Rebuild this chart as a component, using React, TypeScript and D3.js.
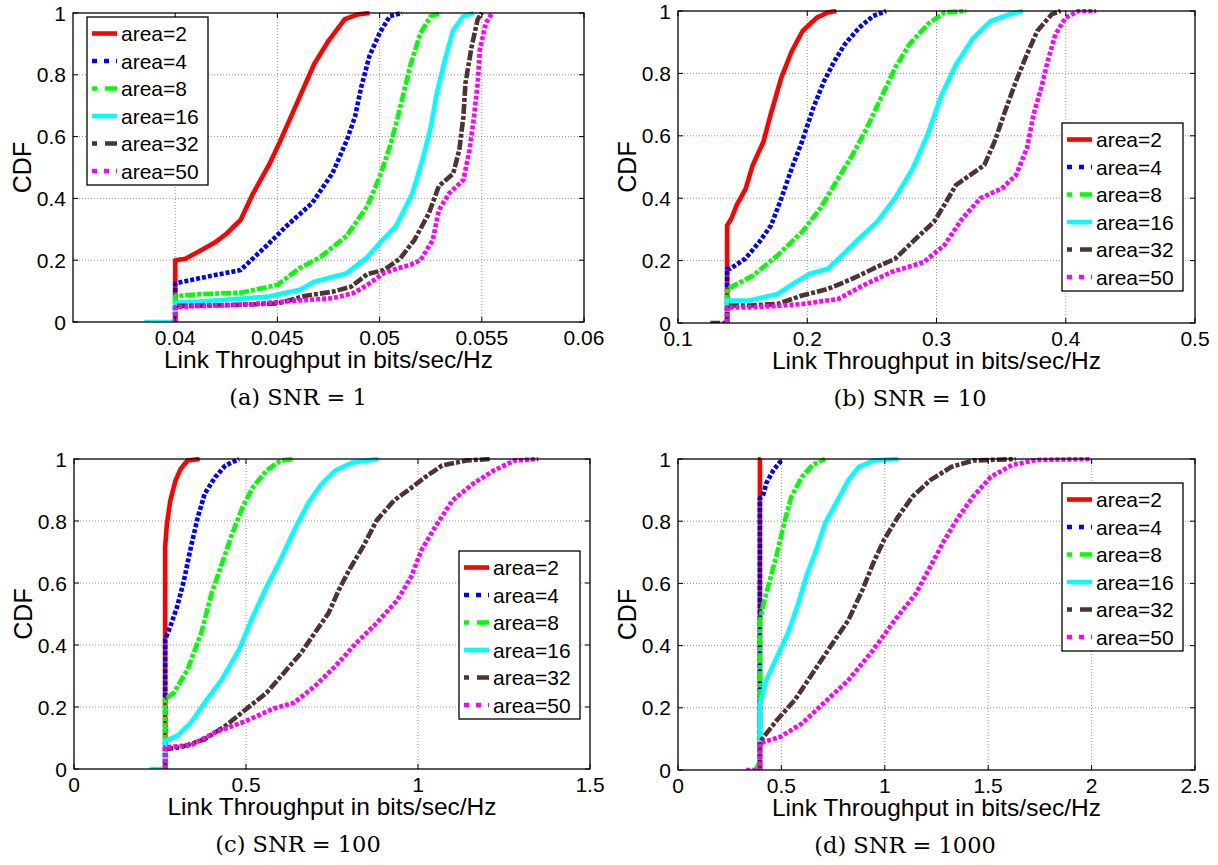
import React from "react";
import * as d3 from "d3";

type Pt = [number, number];

// legend / series styling
const legendLabels = ["area=2", "area=4", "area=8", "area=16", "area=32", "area=50"];
const seriesColors = ["#ff0000", "#0000ff", "#00ff00", "#00ffff", "#4d3333", "#ff00ff"];
const curveDash = ["", "4 2", "10 2 4 2", "", "10 2 4 2", "4 2"];
const legendDash = ["", "5 7", "5 8 12 8", "", "5 8 12 8", "5 7"];

const yTicks = [0, 0.2, 0.4, 0.6, 0.8, 1];
const yTickLabels = ["0", "0.2", "0.4", "0.6", "0.8", "1"];

// (a) SNR = 1
const ticksA = [0.04, 0.045, 0.05, 0.055, 0.06];
const tickLabelsA = ["0.04", "0.045", "0.05", "0.055", "0.06"];
const snr1Area2: Pt[] = [[0.04, 0], [0.04, 0.2], [0.0405, 0.205], [0.0412, 0.23], [0.042, 0.26], [0.0425, 0.285], [0.0428, 0.305], [0.0432, 0.33], [0.0438, 0.415], [0.0446, 0.51], [0.0451, 0.58], [0.0458, 0.685], [0.0463, 0.76], [0.0468, 0.835], [0.0475, 0.91], [0.0483, 0.98], [0.0489, 0.995], [0.0495, 1]];
const snr1Area4: Pt[] = [[0.04, 0], [0.04, 0.125], [0.0412, 0.142], [0.0432, 0.168], [0.0445, 0.249], [0.0454, 0.308], [0.0467, 0.385], [0.0477, 0.482], [0.0484, 0.589], [0.0488, 0.665], [0.0491, 0.76], [0.0495, 0.86], [0.05, 0.935], [0.0505, 0.99], [0.0511, 1]];
const snr1Area8: Pt[] = [[0.04, 0], [0.04, 0.084], [0.0412, 0.09], [0.0432, 0.095], [0.045, 0.12], [0.0461, 0.175], [0.0471, 0.21], [0.0484, 0.28], [0.0494, 0.375], [0.05, 0.47], [0.0505, 0.567], [0.0508, 0.64], [0.0511, 0.72], [0.0515, 0.83], [0.052, 0.935], [0.0525, 0.99], [0.053, 1]];
const snr1Area16: Pt[] = [[0.0385, 0], [0.04, 0], [0.04, 0.062], [0.0412, 0.066], [0.0445, 0.082], [0.0461, 0.104], [0.0468, 0.13], [0.0484, 0.158], [0.0494, 0.21], [0.05, 0.255], [0.0508, 0.31], [0.0516, 0.415], [0.0521, 0.525], [0.0525, 0.63], [0.0528, 0.74], [0.0532, 0.85], [0.0536, 0.945], [0.0541, 0.99], [0.0546, 1]];
const snr1Area32: Pt[] = [[0.04, 0], [0.04, 0.052], [0.0428, 0.055], [0.045, 0.06], [0.0464, 0.085], [0.0477, 0.098], [0.0486, 0.114], [0.0494, 0.155], [0.0502, 0.168], [0.051, 0.205], [0.0517, 0.265], [0.0524, 0.35], [0.0529, 0.44], [0.0536, 0.48], [0.0539, 0.557], [0.0541, 0.665], [0.0542, 0.773], [0.0545, 0.89], [0.0548, 0.98], [0.055, 1]];
const snr1Area50: Pt[] = [[0.04, 0], [0.04, 0.048], [0.0406, 0.05], [0.0438, 0.058], [0.0461, 0.07], [0.0477, 0.077], [0.0487, 0.093], [0.0494, 0.12], [0.0502, 0.158], [0.0509, 0.174], [0.0515, 0.185], [0.052, 0.2], [0.0526, 0.265], [0.0529, 0.362], [0.0534, 0.416], [0.0541, 0.46], [0.0544, 0.557], [0.0546, 0.654], [0.0548, 0.773], [0.0549, 0.88], [0.0552, 0.968], [0.0555, 1]];

// (b) SNR = 10
const ticksB = [0.1, 0.2, 0.3, 0.4, 0.5];
const tickLabelsB = ["0.1", "0.2", "0.3", "0.4", "0.5"];
const snr10Area2: Pt[] = [[0.138, 0], [0.138, 0.313], [0.1413, 0.335], [0.1454, 0.378], [0.1523, 0.43], [0.1578, 0.506], [0.166, 0.58], [0.1716, 0.667], [0.1798, 0.785], [0.188, 0.871], [0.1964, 0.936], [0.2074, 0.979], [0.2156, 0.995], [0.2225, 1]];
const snr10Area4: Pt[] = [[0.138, 0], [0.138, 0.174], [0.1405, 0.174], [0.152, 0.206], [0.163, 0.26], [0.172, 0.313], [0.18, 0.4], [0.188, 0.496], [0.196, 0.582], [0.2046, 0.689], [0.213, 0.775], [0.221, 0.839], [0.229, 0.893], [0.24, 0.946], [0.251, 0.984], [0.261, 1]];
const snr10Area8: Pt[] = [[0.138, 0], [0.138, 0.109], [0.141, 0.115], [0.158, 0.152], [0.177, 0.217], [0.196, 0.292], [0.21, 0.367], [0.224, 0.464], [0.235, 0.539], [0.246, 0.624], [0.257, 0.721], [0.268, 0.818], [0.279, 0.893], [0.293, 0.957], [0.306, 0.995], [0.323, 1]];
const snr10Area16: Pt[] = [[0.138, 0], [0.138, 0.072], [0.155, 0.072], [0.177, 0.093], [0.191, 0.131], [0.202, 0.158], [0.216, 0.174], [0.227, 0.217], [0.24, 0.27], [0.254, 0.324], [0.268, 0.4], [0.2817, 0.496], [0.293, 0.603], [0.304, 0.732], [0.315, 0.828], [0.3285, 0.914], [0.342, 0.968], [0.356, 0.989], [0.367, 1]];
const snr10Area32: Pt[] = [[0.125, 0], [0.138, 0], [0.138, 0.056], [0.155, 0.056], [0.177, 0.061], [0.196, 0.088], [0.216, 0.109], [0.235, 0.142], [0.251, 0.174], [0.268, 0.206], [0.284, 0.27], [0.298, 0.324], [0.306, 0.378], [0.315, 0.442], [0.326, 0.474], [0.337, 0.506], [0.345, 0.582], [0.353, 0.678], [0.3615, 0.775], [0.37, 0.861], [0.378, 0.936], [0.389, 0.989], [0.396, 1]];
const snr10Area50: Pt[] = [[0.138, 0], [0.138, 0.05], [0.155, 0.05], [0.174, 0.054], [0.196, 0.061], [0.224, 0.077], [0.243, 0.12], [0.265, 0.163], [0.29, 0.195], [0.306, 0.249], [0.32, 0.335], [0.334, 0.4], [0.3505, 0.431], [0.3615, 0.474], [0.37, 0.56], [0.375, 0.667], [0.381, 0.753], [0.386, 0.839], [0.392, 0.925], [0.4, 0.979], [0.41, 1], [0.4235, 1]];

// (c) SNR = 100
const ticksC = [0, 0.5, 1, 1.5];
const tickLabelsC = ["0", "0.5", "1", "1.5"];
const snr100Area2: Pt[] = [[0.265, 0], [0.265, 0.717], [0.27, 0.79], [0.28, 0.866], [0.295, 0.93], [0.31, 0.968], [0.33, 0.995], [0.365, 1]];
const snr100Area4: Pt[] = [[0.265, 0], [0.265, 0.417], [0.28, 0.46], [0.3, 0.524], [0.32, 0.61], [0.34, 0.717], [0.36, 0.813], [0.38, 0.888], [0.41, 0.941], [0.44, 0.979], [0.48, 1]];
const snr100Area8: Pt[] = [[0.265, 0], [0.265, 0.225], [0.29, 0.246], [0.33, 0.321], [0.37, 0.439], [0.4, 0.567], [0.43, 0.663], [0.46, 0.759], [0.49, 0.845], [0.52, 0.909], [0.56, 0.963], [0.6, 0.995], [0.64, 1]];
const snr100Area16: Pt[] = [[0.22, 0], [0.265, 0], [0.265, 0.091], [0.3, 0.107], [0.34, 0.15], [0.38, 0.214], [0.43, 0.289], [0.48, 0.385], [0.52, 0.492], [0.56, 0.588], [0.6, 0.674], [0.64, 0.77], [0.68, 0.856], [0.72, 0.92], [0.76, 0.963], [0.81, 0.989], [0.885, 1]];
const snr100Area32: Pt[] = [[0.265, 0], [0.265, 0.064], [0.31, 0.07], [0.38, 0.096], [0.44, 0.139], [0.5, 0.193], [0.56, 0.246], [0.61, 0.31], [0.66, 0.374], [0.7, 0.439], [0.74, 0.503], [0.77, 0.578], [0.8, 0.642], [0.84, 0.717], [0.88, 0.802], [0.93, 0.866], [0.97, 0.898], [1.02, 0.941], [1.07, 0.979], [1.14, 0.995], [1.21, 1]];
const snr100Area50: Pt[] = [[0.265, 0], [0.265, 0.07], [0.34, 0.077], [0.41, 0.118], [0.5, 0.155], [0.58, 0.195], [0.64, 0.214], [0.7, 0.267], [0.76, 0.332], [0.82, 0.406], [0.88, 0.471], [0.94, 0.545], [0.98, 0.62], [1.01, 0.706], [1.05, 0.781], [1.1, 0.866], [1.16, 0.92], [1.22, 0.963], [1.28, 0.995], [1.35, 1]];

// (d) SNR = 1000
const ticksD = [0, 0.5, 1, 1.5, 2, 2.5];
const tickLabelsD = ["0", "0.5", "1", "1.5", "2", "2.5"];
const snr1000Area2: Pt[] = [[0.396, 0], [0.396, 1], [0.4, 1]];
const snr1000Area4: Pt[] = [[0.396, 0], [0.396, 0.874], [0.41, 0.88], [0.427, 0.922], [0.462, 0.965], [0.505, 1]];
const snr1000Area8: Pt[] = [[0.376, 0], [0.396, 0.03], [0.396, 0.48], [0.41, 0.525], [0.4445, 0.611], [0.479, 0.697], [0.513, 0.793], [0.548, 0.879], [0.6, 0.943], [0.651, 0.981], [0.711, 1]];
const snr1000Area16: Pt[] = [[0.396, 0], [0.396, 0.214], [0.427, 0.289], [0.479, 0.364], [0.531, 0.439], [0.582, 0.536], [0.625, 0.632], [0.668, 0.707], [0.711, 0.793], [0.772, 0.868], [0.824, 0.932], [0.875, 0.975], [0.944, 0.995], [1.065, 1]];
const snr1000Area32: Pt[] = [[0.396, 0], [0.396, 0.091], [0.479, 0.161], [0.565, 0.225], [0.651, 0.311], [0.737, 0.397], [0.824, 0.482], [0.892, 0.579], [0.944, 0.665], [0.996, 0.74], [1.065, 0.815], [1.134, 0.879], [1.22, 0.932], [1.323, 0.975], [1.427, 0.995], [1.633, 1]];
const snr1000Area50: Pt[] = [[0.33, 0], [0.396, 0], [0.396, 0.086], [0.496, 0.107], [0.6, 0.15], [0.703, 0.214], [0.824, 0.289], [0.944, 0.386], [1.048, 0.482], [1.151, 0.568], [1.22, 0.654], [1.289, 0.74], [1.358, 0.815], [1.427, 0.879], [1.513, 0.943], [1.616, 0.981], [1.737, 0.997], [1.995, 1]];

const panels = [
  { id: "a", x0: 73, x1: 584, y0: 13, y1: 322, domain: [0.035, 0.06], ticks: ticksA, tickLabels: tickLabelsA,
    series: [snr1Area2, snr1Area4, snr1Area8, snr1Area16, snr1Area32, snr1Area50], caption: "(a) SNR = 1", capX: 298, lx: 87, ly: 17 },
  { id: "b", x0: 678, x1: 1195, y0: 11, y1: 323, domain: [0.1, 0.5], ticks: ticksB, tickLabels: tickLabelsB,
    series: [snr10Area2, snr10Area4, snr10Area8, snr10Area16, snr10Area32, snr10Area50], caption: "(b) SNR = 10", capX: 910, lx: 1062, ly: 123 },
  { id: "c", x0: 74, x1: 590, y0: 459, y1: 769, domain: [0, 1.5], ticks: ticksC, tickLabels: tickLabelsC,
    series: [snr100Area2, snr100Area4, snr100Area8, snr100Area16, snr100Area32, snr100Area50], caption: "(c) SNR = 100", capX: 298, lx: 459, ly: 551 },
  { id: "d", x0: 678, x1: 1195, y0: 459, y1: 770, domain: [0, 2.5], ticks: ticksD, tickLabels: tickLabelsD,
    series: [snr1000Area2, snr1000Area4, snr1000Area8, snr1000Area16, snr1000Area32, snr1000Area50], caption: "(d) SNR = 1000", capX: 905, lx: 1062, ly: 483 },
];

const sans = "'Liberation Sans', Arial, Helvetica, sans-serif";
const serif = "'DejaVu Serif', 'Liberation Serif', serif";

function Panel({ p }: { p: (typeof panels)[number] }) {
  const xs = d3.scaleLinear().domain(p.domain).range([p.x0, p.x1]);
  const ys = d3.scaleLinear().domain([0, 1]).range([p.y1, p.y0]);
  const line = d3.line<Pt>().x(d => xs(d[0])).y(d => ys(d[1]));
  const clipId = "clip-" + p.id;
  const midX = (p.x0 + p.x1) / 2;
  const midY = (p.y0 + p.y1) / 2;
  const tickLen = 5;

  return (
    <g>
      <defs>
        <clipPath id={clipId}>
          <rect x={p.x0} y={p.y0 - 2} width={p.x1 - p.x0} height={p.y1 - p.y0 + 2} />
        </clipPath>
      </defs>
      <rect x={p.x0} y={p.y0} width={p.x1 - p.x0} height={p.y1 - p.y0} fill="#fff" />

      {/* dotted grid */}
      {p.ticks.filter(t => xs(t) > p.x0 + 1 && xs(t) < p.x1 - 1).map(t => (
        <line key={"gx" + t} x1={xs(t)} x2={xs(t)} y1={p.y0} y2={p.y1} stroke="#777" strokeWidth={0.8} strokeDasharray="1 2" />
      ))}
      {yTicks.filter(t => t > 0 && t < 1).map(t => (
        <line key={"gy" + t} x1={p.x0} x2={p.x1} y1={ys(t)} y2={ys(t)} stroke="#777" strokeWidth={0.8} strokeDasharray="1 2" />
      ))}

      {/* curves */}
      <g clipPath={`url(#${clipId})`}>
        {p.series.map((s, i) => (
          <path key={i} d={line(s) || ""} fill="none" stroke={seriesColors[i]} strokeWidth={4.6}
            strokeDasharray={curveDash[i] || undefined} strokeLinejoin="round" />
        ))}
      </g>

      {/* ticks */}
      {p.ticks.map(t => (
        <g key={"tx" + t}>
          <line x1={xs(t)} x2={xs(t)} y1={p.y1} y2={p.y1 - tickLen} stroke="#000" strokeWidth={1} />
          <line x1={xs(t)} x2={xs(t)} y1={p.y0} y2={p.y0 + tickLen} stroke="#000" strokeWidth={1} />
        </g>
      ))}
      {yTicks.map(t => (
        <g key={"ty" + t}>
          <line x1={p.x0} x2={p.x0 + tickLen} y1={ys(t)} y2={ys(t)} stroke="#000" strokeWidth={1} />
          <line x1={p.x1} x2={p.x1 - tickLen} y1={ys(t)} y2={ys(t)} stroke="#000" strokeWidth={1} />
        </g>
      ))}
      <rect x={p.x0} y={p.y0} width={p.x1 - p.x0} height={p.y1 - p.y0} fill="none" stroke="#000" strokeWidth={1.3} />

      {/* tick labels */}
      {p.ticks.map((t, i) => (
        <text key={"lx" + t} x={xs(t)} y={p.y1 + 23} textAnchor="middle" fontFamily={sans} fontSize={21}>{p.tickLabels[i]}</text>
      ))}
      {yTicks.map((t, i) => (
        <text key={"ly" + t} x={p.x0 - 7} y={ys(t) + 7.5} textAnchor="end" fontFamily={sans} fontSize={21}>{yTickLabels[i]}</text>
      ))}

      {/* axis titles */}
      <text x={midX} y={p.y1 + 46} textAnchor="middle" fontFamily={sans} fontSize={24.5}>Link Throughput in bits/sec/Hz</text>
      <text transform={`translate(${p.x0 - 42},${midY}) rotate(-90)`} textAnchor="middle" fontFamily={sans} fontSize={25}>CDF</text>

      {/* legend */}
      <g transform={`translate(${p.lx},${p.ly})`}>
        <rect x={0} y={0} width={121} height={168} fill="#fff" stroke="#000" strokeWidth={1.3} />
        {legendLabels.map((lab, i) => {
          const cy = 16.5 + i * 27.5;
          return (
            <g key={lab}>
              <line x1={5} x2={30} y1={cy} y2={cy} stroke={seriesColors[i]} strokeWidth={4.6} strokeDasharray={legendDash[i] || undefined} />
              <text x={34} y={cy + 7.5} fontFamily={sans} fontSize={21}>{lab}</text>
            </g>
          );
        })}
      </g>

      {/* caption */}
      <text x={p.capX} y={p.y1 + 83} textAnchor="middle" fontFamily={serif} fontSize={22.5}>{p.caption}</text>
    </g>
  );
}

export default function App() {
  return (
    <svg width={1218} height={865} style={{ position: "absolute", left: 0, top: 0, background: "#fff" }}>
      <rect width={1218} height={865} fill="#fff" />
      {panels.map(p => <Panel key={p.id} p={p} />)}
    </svg>
  );
}
